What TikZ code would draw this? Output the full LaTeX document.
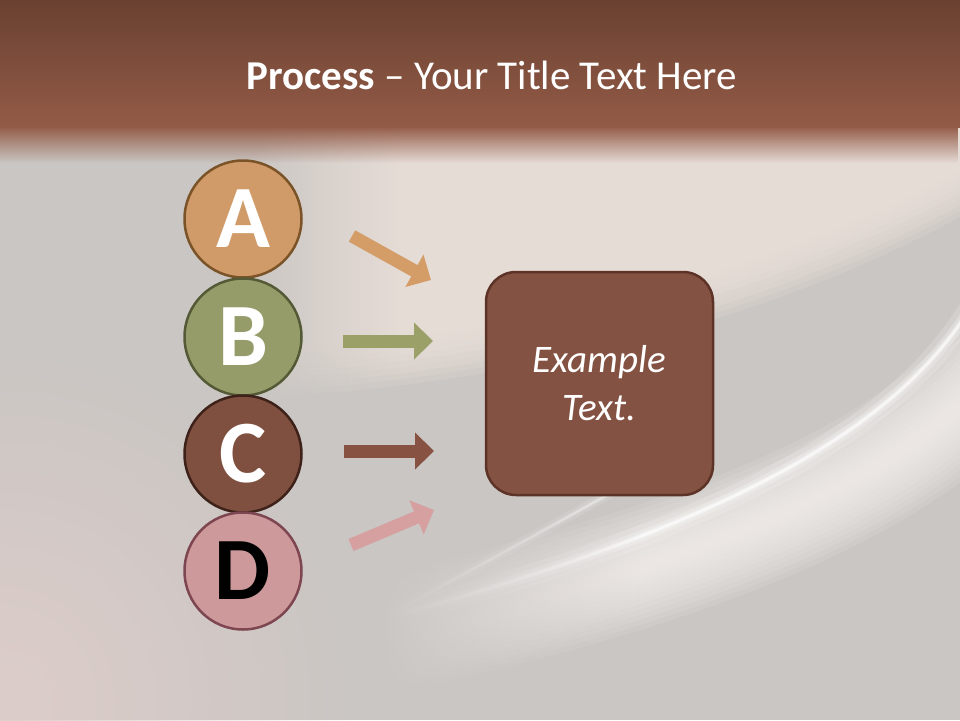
\documentclass[tikz,border=0pt]{standalone}
\usepackage{fontspec}
\setmainfont{Carlito}
\usetikzlibrary{arrows.meta,fadings}
\definecolor{bgGrey}{HTML}{CAC6C3}
\definecolor{bandTop}{HTML}{6A4131}
\definecolor{bandBot}{HTML}{935B47}
\definecolor{lightPink}{HTML}{F0E4DE}
\definecolor{pinkTint}{HTML}{DDCDCA}
\definecolor{glowWhite}{HTML}{FBF6F3}
\definecolor{fillA}{HTML}{D09B68}
\definecolor{drawA}{HTML}{7A5428}
\definecolor{fillB}{HTML}{969C69}
\definecolor{drawB}{HTML}{545A36}
\definecolor{fillC}{HTML}{7F5040}
\definecolor{drawC}{HTML}{3E2219}
\definecolor{fillD}{HTML}{CD999A}
\definecolor{drawD}{HTML}{7D4650}
\definecolor{boxFill}{HTML}{845242}
\definecolor{boxDraw}{HTML}{5C3326}
\definecolor{arrA}{HTML}{D49D68}
\definecolor{arrB}{HTML}{9AA068}
\definecolor{arrC}{HTML}{875242}
\definecolor{arrD}{HTML}{D6A0A0}
\tikzfading[name=fadeoutright, left color=transparent!0, right color=transparent!100]
\tikzfading[name=fadedown, top color=transparent!0, bottom color=transparent!100]
\tikzfading[name=fuzzyball, inner color=transparent!0, outer color=transparent!100]
\tikzset{
  letterball/.style={circle, minimum size=117pt, inner sep=0pt, line width=2.5pt,
    font=\fontsize{89}{89}\selectfont\bfseries},
  blockarrow/.style={line width=13pt, -{Triangle[width=36pt,length=19pt]}},
  examplebox/.style={draw=boxDraw, fill=boxFill, line width=2.5pt, rounded corners=30pt,
    minimum width=227pt, minimum height=223pt, inner sep=0pt, align=center, text=white,
    font=\fontsize{39}{48}\selectfont\itshape},
  titletext/.style={text=white, font=\fontsize{41}{48}\selectfont, inner sep=0pt}
}
\begin{document}
\begin{tikzpicture}[x=1pt,y=-1pt]
\useasboundingbox (0,0) rectangle (960,720);
% background
\fill[bgGrey] (0,0) rectangle (960,720);
\fill[pinkTint, path fading=fuzzyball] (0,700) circle (360);
% upper light band, soft lower edge
\begin{scope}
\clip (250,120) rectangle (960,720);
\foreach \d in {-24,-18,...,24}{
  \fill[lightPink, opacity=0.17]
    (250,120) -- (980,120) -- (980,182+\d)
    .. controls (850,255+\d) and (650,338+\d) .. (340,368+\d) -- (250,372+\d) -- cycle;
}
\end{scope}
\fill[bgGrey, path fading=fadeoutright] (249,120) rectangle (400,420);
% lower glow and bright lines
\begin{scope}
\clip (380,200) rectangle (960,720);
\foreach \w in {120,110,...,10}{
  \draw[glowWhite, line width=\w pt, opacity=0.11]
    (1000,368) .. controls (900,476) and (720,566) .. (330,646);
}
\foreach \w/\o in {22/0.16,11/0.25,5/0.4,2/0.6}{
  \draw[white, line width=\w pt, opacity=\o]
    (975,300) .. controls (900,430) and (720,530) .. (360,625);
}
\foreach \w/\o in {10/0.14,4/0.28,1.5/0.45}{
  \draw[white, line width=\w pt, opacity=\o]
    (660,465) .. controls (590,505) and (500,555) .. (360,630);
}
\end{scope}
\fill[bgGrey, path fading=fadeoutright] (379,470) rectangle (640,720);
% top band
\shade[top color=bandTop, bottom color=bandBot] (0,0) rectangle (960,127);
\fill[bandBot, path fading=fadedown] (0,126) rectangle (960,163);
% title
\node[titletext] (title) at (492,75) {\textbf{Process} – Your Title Text Here};
% circles
\node[letterball, fill=fillA, draw=drawA, text=white] (A) at (243,219) {A};
\node[letterball, fill=fillB, draw=drawB, text=white] (B) at (243,337) {B};
\node[letterball, fill=fillC, draw=drawC, text=white] (C) at (243,454) {C};
\node[letterball, fill=fillD, draw=drawD, text=black] (D) at (243,571) {D};
% box
\node[examplebox] (box) at (599.5,383.5) {Example\\Text.};
% arrows
\coordinate (a1) at (352,236); \coordinate (a2) at (431,280);
\coordinate (b1) at (343,341); \coordinate (b2) at (433,341);
\coordinate (c1) at (344,451); \coordinate (c2) at (434,451);
\coordinate (d1) at (351,545); \coordinate (d2) at (434,510);
\draw[blockarrow, arrA] (a1) -- (a2);
\draw[blockarrow, arrB] (b1) -- (b2);
\draw[blockarrow, arrC] (c1) -- (c2);
\draw[blockarrow, arrD] (d1) -- (d2);
\end{tikzpicture}
\end{document}
